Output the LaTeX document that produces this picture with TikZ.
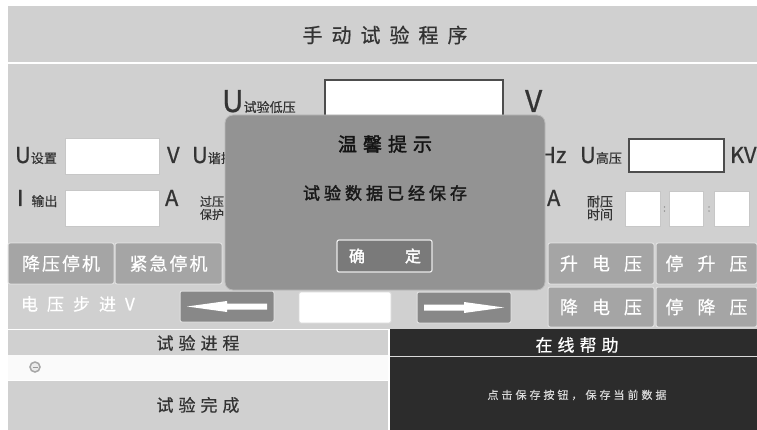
\documentclass[tikz,border=0pt]{standalone}
\usepackage{fontspec}
\setmainfont{Noto Sans CJK SC}[FakeBold=0.6]
\newfontfamily\cjkbold{Noto Sans CJK SC}[FakeBold=2]
\makeatletter
\newcommand\lsp[2]{\def\lsp@gap{\hspace{#1}}\lsp@a#2\@nil}
\def\lsp@a#1{\ifx#1\@nil\else#1\expandafter\lsp@b\fi}
\def\lsp@b#1{\ifx#1\@nil\else\lsp@gap#1\expandafter\lsp@b\fi}
\makeatother
\definecolor{panel}{HTML}{D0D0D0}
\definecolor{btnfill}{HTML}{A5A5A5}
\definecolor{btndark}{HTML}{888888}
\definecolor{dlgfill}{HTML}{939393}
\definecolor{okfill}{HTML}{7A7A7A}
\definecolor{darkbg}{HTML}{2C2C2C}
\definecolor{txt}{HTML}{333333}
\definecolor{boxedge}{HTML}{4D4D4D}
\begin{document}
\begin{tikzpicture}[x=1pt,y=-1pt,
 every node/.style={inner sep=0pt,outer sep=0pt},
 lbl/.style={text=txt,inner sep=0pt},
 bigfont/.style={font=\fontsize{22}{22}\selectfont},
 field/.style={draw=black!22,fill=white,line width=0.8pt},
 hifield/.style={draw=boxedge,fill=white,line width=2.6pt},
 btn/.style={draw=white!88!black,fill=btnfill,line width=1pt,rounded corners=2pt,text=white,anchor=north west,font=\fontsize{18}{18}\selectfont},
 arrbtn/.style={draw=white!88!black,fill=btndark,line width=1pt,rounded corners=2pt,anchor=north west,minimum width=94pt,minimum height=31pt},
 sectxt/.style={text=txt,font=\fontsize{17}{17}\selectfont}
]
\useasboundingbox (0,0) rectangle (757,430);
\fill[white] (0,0) rectangle (757,430);
% title bar
\fill[panel] (8,6) rectangle (757,62);
\node[text=txt,font=\fontsize{20}{20}\selectfont] (title) at (385,35) {\lsp{9pt}{手动试验程序}};
% main panel
\fill[panel] (8,64) rectangle (757,329);
% row 1
\node[lbl,anchor=base west] (uLow) at (222,112) {\fontsize{30}{30}\selectfont U\fontsize{13}{13}\selectfont 试验低压};
\draw[hifield] (325,80) rectangle (503,125);
\node[lbl,anchor=base west,font=\fontsize{30}{30}\selectfont] (vLow) at (525,112) {V};
% row 2
\node[lbl,anchor=base west] (uSet) at (15,163) {\fontsize{22}{22}\selectfont U\fontsize{13}{13}\selectfont 设置};
\draw[field] (65,138) rectangle (159,174);
\node[lbl,anchor=base west,bigfont] (vSet) at (167,163) {V};
\node[lbl,anchor=base west] (uRes) at (192,163) {\fontsize{22}{22}\selectfont U\fontsize{13}{13}\selectfont 谐振};
\node[lbl,anchor=base west,bigfont] (hz) at (540,163) {Hz};
\node[lbl,anchor=base west] (uHigh) at (580,163) {\fontsize{22}{22}\selectfont U\fontsize{13}{13}\selectfont 高压};
\draw[hifield] (629,139) rectangle (724,172);
\node[lbl,anchor=base west,bigfont] (kv) at (730,163) {KV};
% row 3
\node[lbl,anchor=base west] (iOut) at (17,206) {\fontsize{22}{22}\selectfont I\hspace{8pt}\fontsize{13}{13}\selectfont 输出};
\draw[field] (65,190) rectangle (159,226);
\node[lbl,anchor=base west,bigfont] (aOut) at (165,206) {A};
\node[lbl,anchor=west,align=left,font=\fontsize{12}{13}\selectfont] (ovp) at (200,208) {过压\\保护};
\node[lbl,anchor=base west,bigfont] (aRight) at (547,206) {A};
\node[lbl,anchor=west,align=left,font=\fontsize{13}{13}\selectfont] (tWith) at (587,208) {耐压\\时间};
\draw[field] (625,191) rectangle (660,226);
\draw[field] (669,191) rectangle (703,226);
\draw[field] (714,191) rectangle (749,226);
\node[text=black!45,font=\fontsize{10}{10}\selectfont] (col1) at (664.5,209) {:};
\node[text=black!45,font=\fontsize{10}{10}\selectfont] (col2) at (709,209) {:};
% row 4 buttons
\node[btn,minimum width=106pt,minimum height=41pt] (bStop) at (8,243) {\lsp{2pt}{降压停机}};
\node[btn,minimum width=107pt,minimum height=41pt] (bEmg) at (115,243) {\lsp{2pt}{紧急停机}};
\node[btn,minimum width=106pt,minimum height=41pt] (bUp) at (548,243) {\lsp{14pt}{升电压}};
\node[btn,minimum width=101pt,minimum height=41pt] (bStopUp) at (656,243) {\lsp{14pt}{停升压}};
% row 5
\node[lbl,text=white,anchor=west,font=\fontsize{17}{17}\selectfont] (stepLbl) at (21,304) {\lsp{9pt}{电压步进V}};
\node[arrbtn] (bLeft) at (180,291) {};
\fill[white,shift={(bLeft.center)}] (-40,0) -- (0,-5.5) -- (0,-3) -- (40,-3) -- (40,3) -- (0,3) -- (0,5.5) -- cycle;
\draw[field,draw=black!15,rounded corners=1.5pt] (299,292) rectangle (391,323);
\node[arrbtn] (bRight) at (417,292) {};
\fill[white,shift={(bRight.center)}] (40,0) -- (0,-5.5) -- (0,-3) -- (-40,-3) -- (-40,3) -- (0,3) -- (0,5.5) -- cycle;
\node[btn,minimum width=106pt,minimum height=40pt] (bDown) at (548,287) {\lsp{14pt}{降电压}};
\node[btn,minimum width=101pt,minimum height=40pt] (bStopDown) at (656,287) {\lsp{14pt}{停降压}};
% bottom left
\fill[panel] (8,330) rectangle (388,355);
\node[sectxt] (prog) at (198,343) {\lsp{5pt}{试验进程}};
\fill[white!98!black] (8,355) rectangle (388,380);
\draw[black!35,fill=black!8,line width=1.5pt] (35,367) circle (5pt);
\draw[black!40,line width=0.8pt] (32.5,367) -- (37.5,367);
\fill[panel] (8,381) rectangle (388,430);
\node[sectxt] (done) at (198,405) {\lsp{5pt}{试验完成}};
% bottom right
\fill[darkbg] (390,329) rectangle (757,430);
\node[text=white,font=\fontsize{17}{17}\selectfont] (help) at (577,345) {\lsp{5pt}{在线帮助}};
\draw[black!15,line width=1.5pt] (390,356.5) -- (757,356.5);
\node[text=white!85!black,font=\fontsize{11}{11}\selectfont] (helpTxt) at (577,395) {\lsp{3pt}{点击保存按钮，保存当前数据}};
% dialog
\node[anchor=north west,draw=white!72!black,fill=dlgfill,rounded corners=8pt,line width=0.8pt,minimum width=320pt,minimum height=175pt] (dlg) at (225,115) {};
\node[text=black!92,font=\cjkbold\fontsize{19}{19}\selectfont] (dTitle) at (385,144) {\lsp{6pt}{温馨提示}};
\node[text=black!90,font=\cjkbold\fontsize{17}{17}\selectfont] (dMsg) at (385,193) {\lsp{4pt}{试验数据已经保存}};
\node[anchor=north west,draw=white!92!black,fill=okfill,line width=1.2pt,rounded corners=2pt,minimum width=95pt,minimum height=32pt] (ok) at (337,240) {};
\node[text=white,font=\cjkbold\fontsize{16}{16}\selectfont] (okA) at (357,256) {确};
\node[text=white,font=\cjkbold\fontsize{16}{16}\selectfont] (okB) at (413,256) {定};
\end{tikzpicture}
\end{document}
